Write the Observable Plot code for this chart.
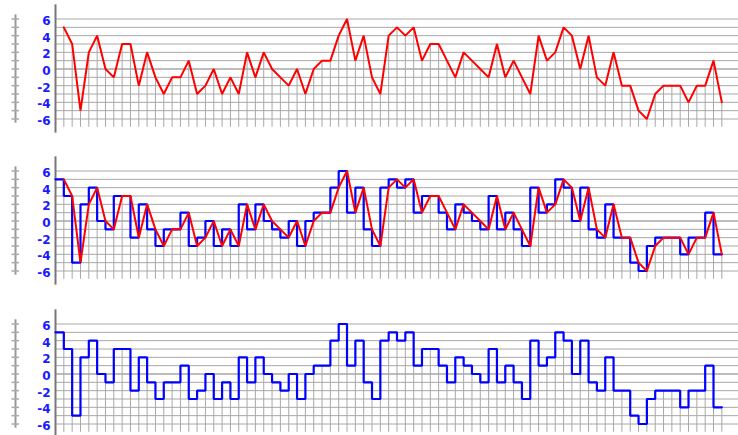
<!DOCTYPE html>
<html>
<head>
<meta charset="utf-8">
<script src="https://cdn.jsdelivr.net/npm/d3@7"></script>
<script src="https://cdn.jsdelivr.net/npm/@observablehq/plot@0.6"></script>
<style>
  html, body { margin: 0; padding: 0; background: #fff; overflow: hidden; }
  #charts svg { display: block; }
</style>
</head>
<body>
<div id="charts"></div>
<script>
// Series values, one per sample (sample n sits at x = n + 1; x = 0 is the axis)
const values = [
  5, 3, -5, 2, 4, 0, -1, 3, 3, -2, 2, -1, -3, -1, -1, 1, -3, -2, 0, -3, -1, -3, 2,
  -1, 2, 0, -1, -2, 0, -3, 0, 1, 1, 4, 6, 1, 4, -1, -3, 4, 5, 4, 5, 1, 3, 3, 1, -1, 2, 1, 0, -1,
  3, -1, 1, -1, -3, 4, 1, 2, 5, 4, 0, 4, -1, -2, 2, -2, -2, -5, -6, -3, -2, -2, -2, -4, -2, -2, 1, -4
];
// Y tick labels and grid lines
const labelTicks = [6, 4, 2, 0, -2, -4, -6];
const gridTicks = d3.range(-6, 7);

const points = values.map((v, i) => ({x: i + 1, y: v}));
// Step series: each value is held over the interval that ends at its sample
const stepPoints = [{x: 0, y: values[0]}, ...points];

const unit = 100 / 12; // pixels per y unit
const zero = 68.5;     // y = 0 position inside each panel

function panel(height, showLine, showStep) {
  const marks = [
    // horizontal grid
    Plot.ruleY(gridTicks, {y: d => d, x1: 0, x2: 82, stroke: d => d === 0 ? "#7a7a7a" : "#a8a8a8", strokeWidth: 1}),
    // drop lines from each sample to the floor
    Plot.ruleX(points, {x: "x", y1: "y", y2: -7, stroke: "#a8a8a8", strokeWidth: 1}),
    // secondary left rule with tick marks
    Plot.ruleX([0], {y1: -6.5, y2: 6.5, dx: -40, stroke: "#999", strokeWidth: 2}),
    Plot.ruleY(gridTicks, {y: d => d, x1: 0, x2: 0.9, dx: -43.5, stroke: "#aaa", strokeWidth: 1.5}),
    // main axis
    Plot.ruleX([0], {y1: -7.7, y2: 7.7, stroke: "#777", strokeWidth: 2}),
    Plot.text(labelTicks, {
      x: 0, y: d => d, text: d => String(d), dx: -5, dy: 2,
      textAnchor: "end", fill: "#1a1aff", fontWeight: "bold", fontSize: 12,
      fontFamily: "DejaVu Sans, sans-serif"
    })
  ];
  if (showStep) marks.push(Plot.line(stepPoints, {x: "x", y: "y", curve: "step-before", stroke: "#0000ff", strokeWidth: 2.2, strokeLinejoin: "miter"}));
  if (showLine) marks.push(Plot.line(points, {x: "x", y: "y", stroke: "#ff0000", strokeWidth: 2, strokeLinejoin: "miter"}));
  return Plot.plot({
    width: 738,
    height,
    margin: 0,
    x: {domain: [0, 82], range: [55, 738], axis: null},
    y: {domain: [-6, 6], range: [zero + 6 * unit, zero - 6 * unit], axis: null},
    marks
  });
}

const host = document.getElementById("charts");
host.append(panel(152, true, false));
host.append(panel(153, true, true));
host.append(panel(130, false, true));
</script>
</body>
</html>
